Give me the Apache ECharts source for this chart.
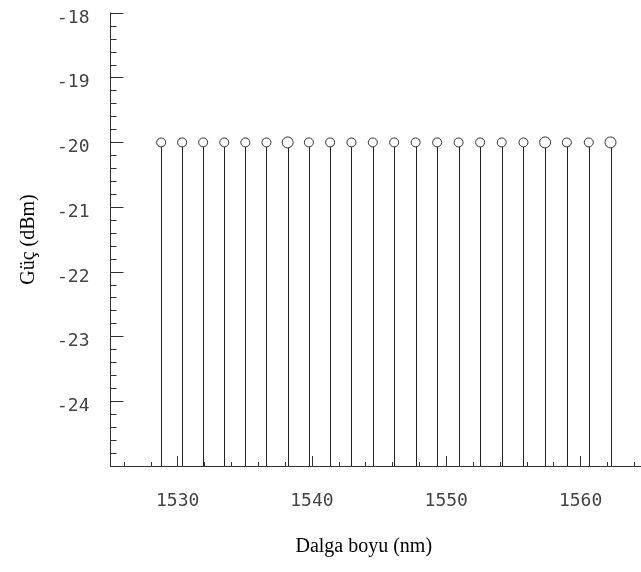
<!DOCTYPE html>
<html>
<head>
<meta charset="utf-8">
<script src="https://cdn.jsdelivr.net/npm/echarts@6/dist/echarts.min.js"></script>
<style>
html,body{margin:0;padding:0;background:#fff;}
#chart{width:641px;height:572px;}
</style>
</head>
<body>
<div id="chart"></div>
<script>
// Channel wavelengths (nm) and power (dBm)
var wavelengths = [1528.77, 1530.33, 1531.90, 1533.47, 1535.04, 1536.61, 1538.19, 1539.77,
  1541.35, 1542.94, 1544.53, 1546.12, 1547.72, 1549.32, 1550.92, 1552.52,
  1554.13, 1555.75, 1557.36, 1558.98, 1560.61, 1562.23];
var powers = [-20, -20, -20, -20, -20, -20, -20, -20, -20, -20, -20,
  -20, -20, -20, -20, -20, -20, -20, -20, -20, -20, -20];
var xMajorTicks = [1530, 1540, 1550, 1560];
var xMinorTicks = [1526, 1528, 1530, 1532, 1534, 1536, 1538, 1540, 1542, 1544, 1546, 1548,
  1550, 1552, 1554, 1556, 1558, 1560, 1562, 1564];
var yTickLabels = [-24, -23, -22, -21, -20, -19, -18];
var xMin = 1525, xMax = 1564.5, yMin = -25, yMax = -18;

var pts = wavelengths.map(function (w, i) { return [w, powers[i]]; });

var tickFont = 'DejaVu Sans Mono';
var titleFont = '"Liberation Serif", "Times New Roman", serif';
var axisColor = '#333';

var chart = echarts.init(document.getElementById('chart'), null, {renderer: 'canvas'});
chart.setOption({
  animation: false,
  backgroundColor: '#fff',
  grid: {left: 110.5, right: 0, top: 13, bottom: 106, containLabel: false},
  xAxis: [{
    type: 'value', min: xMin, max: xMax,
    name: 'Dalga boyu (nm)', nameLocation: 'middle', nameGap: 71,
    nameTextStyle: {fontFamily: titleFont, fontSize: 20, color: '#000', padding: [0, 24, 0, 0]},
    splitLine: {show: false},
    axisLine: {show: true, onZero: false, lineStyle: {color: axisColor, width: 1}},
    axisTick: {show: true, inside: true, length: 10, customValues: xMajorTicks, lineStyle: {color: axisColor}},
    axisLabel: {
      show: true, customValues: xMajorTicks, margin: 26, fontFamily: tickFont, fontSize: 18, color: '#444',
      formatter: function (v) { return String(v); }
    }
  }, {
    type: 'value', min: xMin, max: xMax, position: 'bottom',
    splitLine: {show: false},
    axisLine: {show: false},
    axisTick: {show: true, inside: true, length: 4, customValues: xMinorTicks, lineStyle: {color: axisColor}},
    axisLabel: {show: false}
  }],
  yAxis: [{
    type: 'value', min: yMin, max: yMax, interval: 1,
    name: 'Güç (dBm)', nameLocation: 'middle', nameGap: 72,
    nameTextStyle: {fontFamily: titleFont, fontSize: 20, color: '#000'},
    splitLine: {show: false},
    axisLine: {show: true, onZero: false, lineStyle: {color: axisColor, width: 1}},
    axisTick: {show: true, inside: true, length: 13, lineStyle: {color: axisColor}},
    minorTick: {show: true, splitNumber: 5, length: 6, lineStyle: {color: axisColor}},
    axisLabel: {
      show: true, margin: 21, fontFamily: tickFont, fontSize: 18, color: '#444',
      verticalAlign: 'top', lineHeight: 10,
      formatter: function (v) { return yTickLabels.indexOf(v) >= 0 ? String(v) : ''; }
    }
  }],
  series: [{
    type: 'custom',
    xAxisIndex: 0, yAxisIndex: 0,
    data: pts,
    clip: false,
    renderItem: function (params, api) {
      var top = api.coord([api.value(0), api.value(1)]);
      var bot = api.coord([api.value(0), yMin]);
      var x = Math.round(top[0]) + 0.5;
      return {
        type: 'line',
        shape: {x1: x, y1: top[1], x2: x, y2: bot[1]},
        style: {stroke: '#222', lineWidth: 1}
      };
    },
    z: 2
  }, {
    type: 'scatter',
    xAxisIndex: 0, yAxisIndex: 0,
    data: pts,
    symbol: 'circle',
    symbolSize: function (v, p) { return (p.dataIndex === 6 || p.dataIndex === 18 || p.dataIndex === 21) ? 11 : 9; },
    itemStyle: {color: '#fff', borderColor: '#333', borderWidth: 1, opacity: 1},
    z: 3
  }]
});
</script>
</body>
</html>
